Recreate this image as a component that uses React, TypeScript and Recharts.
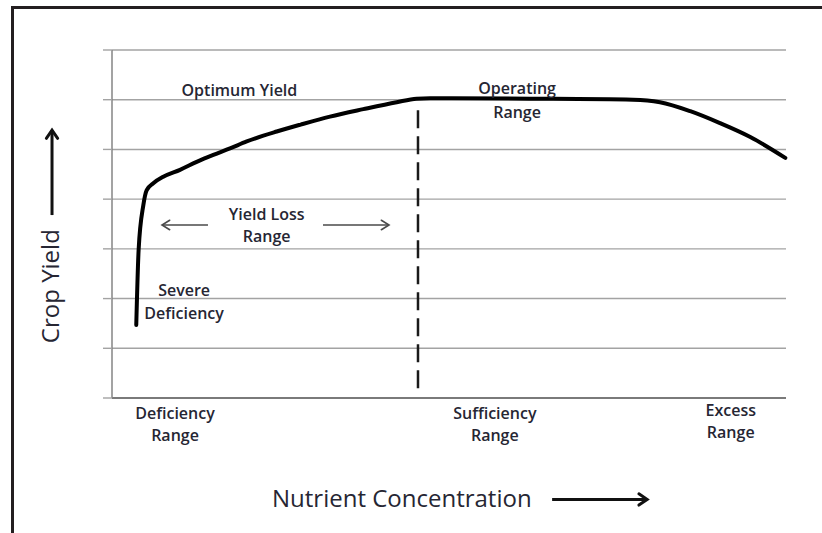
import React from "react";
import { LineChart, Line, XAxis, YAxis, CartesianGrid, ReferenceLine, ReferenceDot } from "recharts";

// Nutrient concentration (0-100 relative units) vs crop yield (0-7 grid units)
const concentration = [3.6, 3.95, 4.65, 5.15, 6.13, 7.61, 10.09, 12.57, 15.03, 17.51, 19.99, 24.44, 28.0, 32.34, 37.28, 42.24, 45.2, 47.2, 62, 77.3, 81.3, 85.8, 90.2, 94.7, 99.9];
const cropYield = [1.47, 2.98, 3.88, 4.18, 4.32, 4.45, 4.59, 4.75, 4.89, 5.02, 5.16, 5.36, 5.5, 5.66, 5.81, 5.95, 6.02, 6.03, 6.02, 6.0, 5.95, 5.77, 5.53, 5.25, 4.83];

const yTicks = [0, 1, 2, 3, 4, 5, 6, 7];

// boundary between yield-loss and sufficiency ranges
const boundaryX = 45.4;
const boundaryTop = 5.79;
const boundaryBottom = 0.12;

// annotation labels (anchor in data units)
const labelText = ["Optimum Yield", "Operating", "Range", "Yield Loss", "Range", "Severe", "Deficiency", "Deficiency", "Range", "Sufficiency", "Range", "Excess", "Range"];
const labelX = [18.9, 60.1, 60.1, 22.95, 22.95, 10.7, 10.7, 9.35, 9.35, 56.8, 56.8, 91.8, 91.8];
const labelY = [6.08, 6.115, 5.63, 3.58, 3.14, 2.05, 1.595, -0.42, -0.865, -0.42, -0.865, -0.36, -0.8];

const xTitle = "Nutrient Concentration";
const xTitlePos = { x: 43.0, y: -2.19 };
const yTitle = "Crop Yield";
const yTitlePos = { x: -7.86, y: 2.25 };

// arrows: [x1, y1, x2, y2] tail -> head
const thinArrows = [
  [14.24, 3.48, 7.42, 3.48],
  [31.3, 3.48, 41.1, 3.48],
];
const thickArrows = [
  [65.3, -2.04, 79.4, -2.04],
  [-8.9, 3.68, -8.9, 5.39],
];

const data = concentration.map((x, i) => ({ x, y: cropYield[i] }));

const FONT = "'Open Sans', sans-serif";

const makeArrow = (color: string, width: number, head: number, spread: number) => (props: any) => {
  const { x1, y1, x2, y2 } = props;
  const a = Math.atan2(y2 - y1, x2 - x1);
  const ax = x2 - head * Math.cos(a - spread);
  const ay = y2 - head * Math.sin(a - spread);
  const bx = x2 - head * Math.cos(a + spread);
  const by = y2 - head * Math.sin(a + spread);
  return (
    <g>
      <line x1={x1} y1={y1} x2={x2} y2={y2} stroke={color} strokeWidth={width} />
      <path d={`M${ax},${ay} L${x2},${y2} L${bx},${by}`} fill="none" stroke={color} strokeWidth={width} strokeLinecap="round" strokeLinejoin="miter" />
    </g>
  );
};

const thinArrow = makeArrow("#4a4a4a", 1.6, 9, 0.55);
const thickArrow = makeArrow("#111111", 3, 10, 0.6);

const textShape = (text: string, size: number, weight: number, rotate = false) => (props: any) => {
  const { cx, cy } = props;
  return (
    <text
      x={cx}
      y={cy}
      textAnchor="middle"
      fontFamily={FONT}
      fontSize={size}
      fontWeight={weight}
      fill="#262633"
      transform={rotate ? `rotate(-90 ${cx} ${cy})` : undefined}
    >
      {text}
    </text>
  );
};

export default function App() {
  return (
    <div style={{ position: "absolute", left: 0, top: 0, width: 822, height: 533, background: "#fff" }}>
      <div
        style={{
          position: "absolute",
          left: 11,
          top: 6,
          width: 811,
          height: 527,
          borderTop: "3px solid #231f20",
          borderLeft: "3px solid #231f20",
          boxSizing: "border-box",
        }}
      />
      <div style={{ position: "absolute", left: 0, top: 0 }}>
        <LineChart width={822} height={533} data={data} margin={{ top: 50, right: 36, bottom: 134, left: 103 }}>
          <CartesianGrid vertical={false} stroke="#a3a3a3" strokeWidth={1.4} />
          <XAxis
            type="number"
            dataKey="x"
            domain={[0, 100]}
            height={1}
            tick={false}
            tickLine={false}
            axisLine={{ stroke: "#7a7a7a", strokeWidth: 2.2 }}
          />
          <YAxis
            type="number"
            domain={[0, 7]}
            ticks={yTicks}
            width={9}
            tickSize={9}
            tickFormatter={() => ""}
            tickLine={{ stroke: "#a3a3a3", strokeWidth: 1.4 }}
            axisLine={{ stroke: "#858585", strokeWidth: 1.5 }}
          />
          <ReferenceLine
            segment={[{ x: boundaryX, y: boundaryTop }, { x: boundaryX, y: boundaryBottom }]}
            stroke="#1a1a1a"
            strokeWidth={2.5}
            strokeDasharray="18 8"
          />
          <Line
            type="monotone"
            dataKey="y"
            stroke="#000"
            strokeWidth={4}
            dot={false}
            strokeLinecap="round"
            isAnimationActive={false}
          />
          {thinArrows.map((a, i) => (
            <ReferenceLine
              key={`ta${i}`}
              segment={[{ x: a[0], y: a[1] }, { x: a[2], y: a[3] }]}
              ifOverflow="visible"
              shape={thinArrow}
            />
          ))}
          {thickArrows.map((a, i) => (
            <ReferenceLine
              key={`tk${i}`}
              segment={[{ x: a[0], y: a[1] }, { x: a[2], y: a[3] }]}
              ifOverflow="visible"
              shape={thickArrow}
            />
          ))}
          {labelText.map((t, i) => (
            <ReferenceDot
              key={`l${i}`}
              x={labelX[i]}
              y={labelY[i]}
              r={1}
              ifOverflow="visible"
              shape={textShape(t, 16, 600)}
            />
          ))}
          <ReferenceDot x={xTitlePos.x} y={xTitlePos.y} r={1} ifOverflow="visible" shape={textShape(xTitle, 24, 400)} />
          <ReferenceDot x={yTitlePos.x} y={yTitlePos.y} r={1} ifOverflow="visible" shape={textShape(yTitle, 24, 400, true)} />
        </LineChart>
      </div>
    </div>
  );
}
